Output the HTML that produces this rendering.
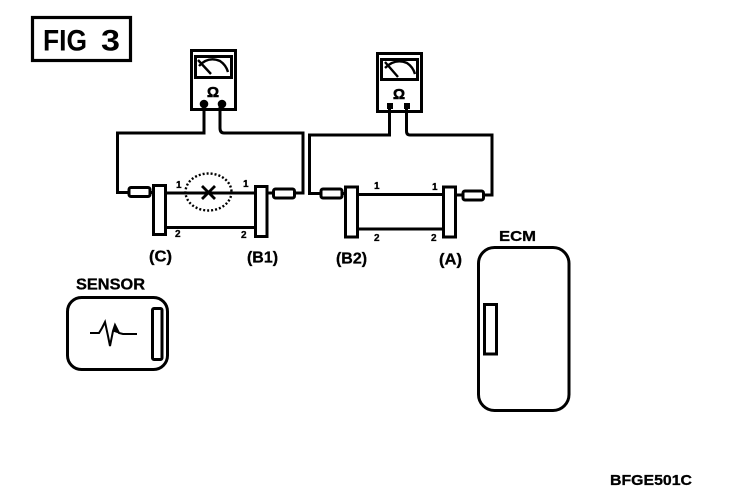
<!DOCTYPE html>
<html><head><meta charset="utf-8"><style>
html,body{margin:0;padding:0;background:#fff}
svg{display:block}
text{font-family:"Liberation Sans",sans-serif;font-weight:bold;fill:#000;stroke:#000;stroke-width:.3}
</style></head><body>
<svg width="736" height="502" viewBox="0 0 736 502" fill="none" stroke="#000" stroke-width="3">
<rect width="736" height="502" fill="#fff" stroke="none"/>
<!-- FIG box -->
<rect x="32.5" y="17.5" width="98" height="43" stroke-width="3.2"/>
<text x="43" y="50.500" font-size="30" textLength="44" lengthAdjust="spacingAndGlyphs" style="stroke:none">FIG</text>
<text x="101" y="50.500" font-size="30" textLength="19" lengthAdjust="spacingAndGlyphs" style="stroke:none">3</text>

<!-- Left meter -->
<rect x="191.5" y="50.5" width="44" height="59"/>
<rect x="195.5" y="56.5" width="36" height="21" stroke-width="3"/>
<path d="M198 60 L211 74 M199 66 Q208 56 220 61 Q226 65 228 72" stroke-width="2.4"/>
<text x="213" y="97" font-size="15" text-anchor="middle" style="stroke-width:.6">Ω</text>
<circle cx="204" cy="104" r="2.8" fill="#000"/><circle cx="222" cy="104" r="2.8" fill="#000"/>
<path d="M204 104 V133 H117.500 V192.500 H129"/>
<path d="M220 104 V128 Q220 133 224 133 H303 V193 H294"/>
<rect x="129" y="187.500" width="21" height="9" rx="2"/>
<path d="M150 192.500 H154"/>
<rect x="153.500" y="185.500" width="12" height="49"/>
<path d="M166 193 H255 M166 227.500 H255"/>
<rect x="255.500" y="186.500" width="11.500" height="50"/>
<path d="M267 193 H274"/>
<rect x="273.500" y="189" width="21" height="9" rx="2"/>
<ellipse cx="208.500" cy="192" rx="23" ry="18.500" stroke-width="2.4" stroke-dasharray="2 2"/>
<path d="M202 186 L215 199 M215 186 L202 199" stroke-width="2.8"/>

<!-- Right meter -->
<rect x="377.500" y="53.500" width="44" height="58"/>
<rect x="381.500" y="59.500" width="36" height="20" stroke-width="3"/>
<path d="M385 62 L398 77 M385 68 Q395 58 407 63 Q413 67 415 74" stroke-width="2.4"/>
<text x="399" y="99" font-size="15" text-anchor="middle" style="stroke-width:.6">Ω</text>
<rect x="387" y="103" width="6" height="6" fill="#000" stroke="none"/><rect x="404" y="103" width="6" height="6" fill="#000" stroke="none"/>
<path d="M389.500 106 V135 H309.500 V193.500 H321"/>
<path d="M406.500 106 V131 Q406.500 135 410 135 H492 V195 H483"/>
<rect x="321" y="189" width="21" height="9" rx="2"/>
<path d="M342 193.500 H346"/>
<rect x="345.500" y="187" width="12" height="50"/>
<path d="M358 194.500 H443 M358 229 H443"/>
<rect x="443.500" y="187" width="12" height="50"/>
<path d="M456 195 H463"/>
<rect x="463" y="191" width="20.500" height="9" rx="2"/>

<!-- small numbers -->
<g font-size="10">
<text x="176" y="188">1</text><text x="243" y="187">1</text>
<text x="175" y="237">2</text><text x="241" y="238">2</text>
<text x="374" y="189">1</text><text x="432" y="190">1</text>
<text x="374" y="241">2</text><text x="431" y="241">2</text>
</g>
<!-- connector labels -->
<g font-size="16" style="stroke-width:.3">
<text x="149" y="261.500" textLength="23" lengthAdjust="spacingAndGlyphs">(C)</text>
<text x="247" y="262.500" textLength="31" lengthAdjust="spacingAndGlyphs">(B1)</text>
<text x="336" y="263.500" textLength="31" lengthAdjust="spacingAndGlyphs">(B2)</text>
<text x="439" y="264.500" textLength="23" lengthAdjust="spacingAndGlyphs">(A)</text>
<text x="76" y="289.500" font-size="16" textLength="69" lengthAdjust="spacingAndGlyphs">SENSOR</text>
<text x="499" y="241" font-size="15" textLength="37" lengthAdjust="spacingAndGlyphs">ECM</text>
<text x="610" y="485" font-size="15" textLength="82" lengthAdjust="spacingAndGlyphs">BFGE501C</text>
</g>

<!-- Sensor -->
<rect x="67.500" y="297.500" width="100" height="72" rx="14"/>
<rect x="152.500" y="308.500" width="9.500" height="51" rx="1.500"/>
<path d="M90 333 H99 L102 328 L105 322 L108 336 L110 346 L113 331 L115 325 L119 333 L123 334 H137" stroke-width="2"/>
<path d="M113 331 L115 325 L119 333 Z" fill="#000" stroke-width="1"/>
<!-- ECM -->
<rect x="478.500" y="247.500" width="90.500" height="163" rx="16"/>
<rect x="484.500" y="304.500" width="12" height="49.500"/>
</svg>
</body></html>
